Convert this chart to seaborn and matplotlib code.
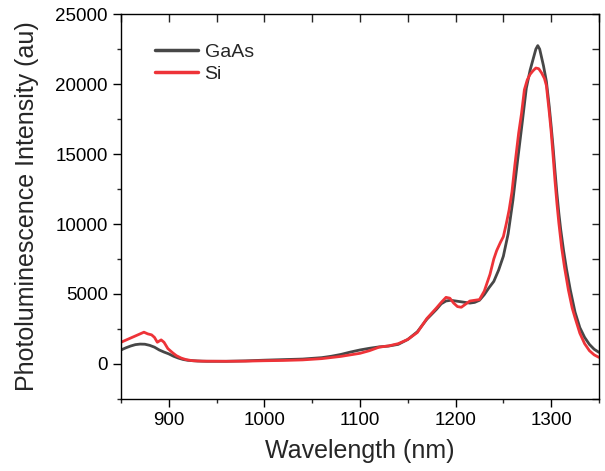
import matplotlib
matplotlib.use("Agg")
import matplotlib.pyplot as plt
import seaborn as sns
import pandas as pd
from matplotlib.ticker import MultipleLocator

# ---- data ----
gaas_wl = [850, 855, 860, 865, 870, 875, 880, 885, 890, 895, 900, 905, 910, 915, 920, 930, 940,
           960, 980, 1000, 1020, 1040, 1060, 1070, 1080, 1090, 1100, 1110, 1120, 1130, 1140, 1150,
           1160, 1170, 1180, 1185, 1190, 1195, 1200, 1205, 1210, 1215, 1220, 1225, 1230, 1235,
           1240, 1245, 1250, 1255, 1260, 1265, 1270, 1274, 1278, 1282, 1284, 1286, 1288, 1290,
           1292, 1295, 1298, 1300, 1302, 1304, 1306, 1308, 1310, 1313, 1316, 1320, 1325, 1330,
           1335, 1340, 1345, 1350]
gaas_int = [1000, 1150, 1280, 1380, 1420, 1410, 1330, 1200, 1000, 850, 720, 550, 420, 320, 260,
            210, 190, 190, 220, 270, 310, 350, 450, 550, 680, 850, 1000, 1120, 1220, 1280, 1400,
            1750, 2300, 3200, 3900, 4300, 4500, 4550, 4500, 4450, 4400, 4350, 4400, 4550, 4950,
            5450, 5900, 6700, 7700, 9300, 11700, 14600, 17400, 19700, 21000, 22000, 22500, 22750,
            22500, 21900, 21300, 20200, 18400, 17000, 15500, 13800, 12200, 10800, 9600, 8100,
            6800, 5300, 3700, 2600, 1900, 1400, 1050, 830]

si_wl = [850, 855, 860, 865, 870, 874, 878, 882, 885, 888, 892, 895, 899, 904, 908, 913, 918,
         925, 935, 960, 980, 1000, 1020, 1040, 1060, 1080, 1100, 1110, 1120, 1130, 1140, 1150,
         1160, 1170, 1180, 1185, 1190, 1194, 1198, 1202, 1206, 1210, 1215, 1220, 1225, 1230,
         1236, 1240, 1243, 1247, 1250, 1253, 1256, 1259, 1262, 1266, 1269, 1272, 1275, 1278,
         1281, 1284, 1287, 1290, 1293, 1295, 1298, 1300, 1302, 1304, 1306, 1308, 1311, 1314,
         1318, 1322, 1325, 1330, 1335, 1340, 1345, 1350]
si_int = [1550, 1700, 1850, 2000, 2150, 2270, 2150, 2080, 1900, 1550, 1720, 1550, 1100, 800,
          590, 420, 310, 230, 200, 190, 200, 230, 250, 290, 380, 540, 760, 950, 1200, 1290, 1450,
          1750, 2250, 3250, 4000, 4400, 4760, 4700, 4350, 4100, 4050, 4250, 4500, 4550, 4600,
          5200, 6400, 7500, 8100, 8700, 9100, 10000, 11000, 12300, 14200, 16500, 17900, 19600,
          20300, 20700, 20950, 21150, 21100, 20800, 20400, 19900, 18000, 16600, 14900, 13100,
          11500, 10100, 8300, 6900, 5300, 4000, 3300, 2200, 1450, 950, 650, 470]

series_names = ["GaAs", "Si"]
series_colors = ["#474747", "#ee3338"]
x_ticks = [900, 1000, 1100, 1200, 1300]
y_ticks = [0, 5000, 10000, 15000, 20000, 25000]

df = pd.concat([
    pd.DataFrame({"Wavelength": gaas_wl, "Intensity": gaas_int, "Sample": series_names[0]}),
    pd.DataFrame({"Wavelength": si_wl, "Intensity": si_int, "Sample": series_names[1]}),
], ignore_index=True)

sns.set_style("ticks")
plt.rcParams["font.family"] = ["Liberation Sans", "DejaVu Sans"]

fig = plt.figure(figsize=(6.05, 4.71), dpi=100)
ax = fig.add_axes([0.2, 0.153, 0.79, 0.817])

sns.lineplot(data=df, x="Wavelength", y="Intensity", hue="Sample",
             palette=dict(zip(series_names, series_colors)), linewidth=2.0,
             estimator=None, sort=False, ax=ax)

ax.set_xlim(850, 1350)
ax.set_ylim(-2500, 25000)
ax.set_xticks(x_ticks)
ax.set_yticks(y_ticks)
ax.xaxis.set_minor_locator(MultipleLocator(50))
ax.yaxis.set_minor_locator(MultipleLocator(2500))
ax.tick_params(axis="both", which="major", direction="out", length=6, width=1.0,
               labelsize=13.5, colors="black")
ax.tick_params(axis="both", which="minor", direction="out", length=3, width=1.0)
for s in ax.spines.values():
    s.set_visible(True)
    s.set_linewidth(1.0)
    s.set_color("black")

secx = ax.secondary_xaxis("top")
secx.xaxis.set_major_locator(MultipleLocator(50))
secx.tick_params(direction="in", length=6, width=1.0, labeltop=False)
secx.spines["top"].set_visible(False)
secy = ax.secondary_yaxis("right")
secy.yaxis.set_major_locator(MultipleLocator(2500))
secy.tick_params(direction="in", length=5, width=1.0, labelright=False)
secy.spines["right"].set_visible(False)

ax.set_xlabel("Wavelength (nm)", fontsize=18, labelpad=7)
ax.set_ylabel("Photoluminescence Intensity (au)", fontsize=18, labelpad=12)

leg = ax.legend(loc="upper left", bbox_to_anchor=(0.071, 0.925), frameon=False,
                fontsize=14, handlelength=2.2, handletextpad=0.35, labelspacing=0.25,
                borderpad=0, borderaxespad=0)
for line in leg.get_lines():
    line.set_linewidth(2.5)

fig.savefig("out.png", dpi=100)
